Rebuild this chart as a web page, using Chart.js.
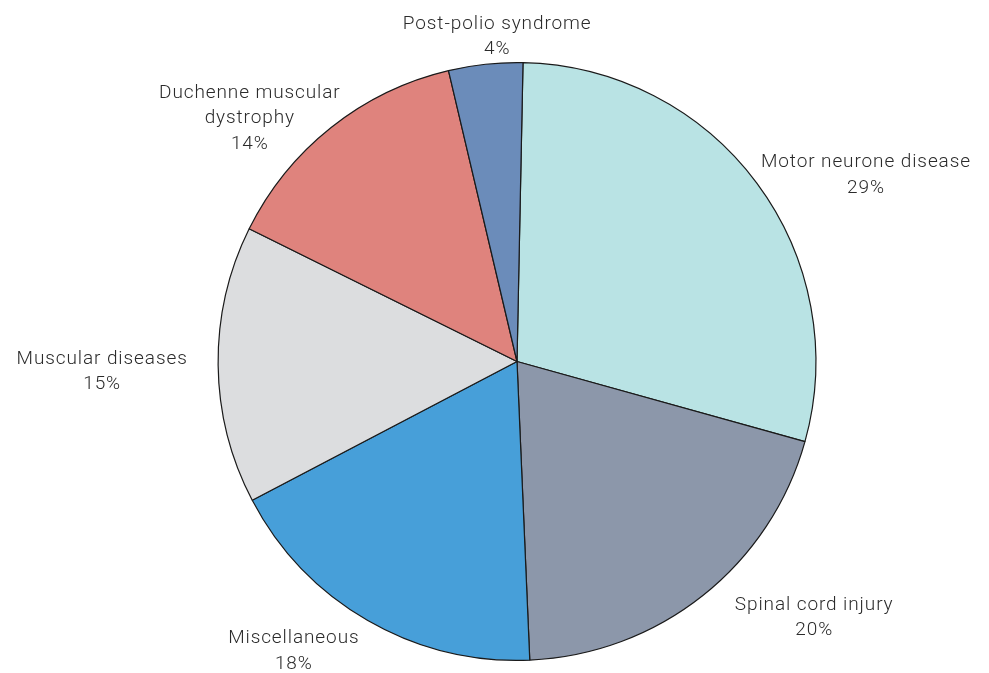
<!DOCTYPE html>
<html>
<head>
<meta charset="utf-8">
<script src="https://cdn.jsdelivr.net/npm/chart.js@4.4.6/dist/chart.umd.js"></script>
<style>
  html, body { margin: 0; padding: 0; background: #fff; }
  #wrap { width: 989px; height: 673px; position: relative; }
</style>
</head>
<body>
<div id="wrap"><canvas id="myChart"></canvas></div>
<script>
// data
const categories = ['Motor neurone disease', 'Spinal cord injury', 'Miscellaneous', 'Muscular diseases', 'Duchenne muscular dystrophy', 'Post-polio syndrome'];
const shares = [29, 20, 18, 15, 14, 4];
// label text as printed (line breaks where the picture breaks them)
const labelLines = [
    ['Motor neurone disease'],
    ['Spinal cord injury'],
    ['Miscellaneous'],
    ['Muscular diseases'],
    ['Duchenne muscular', 'dystrophy'],
    ['Post-polio syndrome']
];
const colours = ['#b9e3e4', '#8c97aa', '#479fd9', '#dcdddf', '#df837d', '#6b8cba'];

// nudges for the outside labels, relative to a point on the slice middle line
const labelNudge = [[61, 28], [74, -25], [-44, -21], [-56, 6], [-44, 38], [18, 32]];

const outsideLabels = {
    id: 'outsideLabels',
    afterDatasetsDraw(chart) {
        const ctx = chart.ctx;
        const meta = chart.getDatasetMeta(0);
        ctx.save();
        ctx.font = '300 19px Roboto';
        ctx.letterSpacing = '0.9px';
        ctx.fillStyle = '#2b2b2b';
        ctx.textAlign = 'center';
        ctx.textBaseline = 'middle';
        meta.data.forEach((arc, i) => {
            const p = arc.getProps(['x', 'y', 'startAngle', 'endAngle', 'outerRadius'], true);
            const mid = (p.startAngle + p.endAngle) / 2;
            const r = p.outerRadius + 60;
            const cx = p.x + Math.cos(mid) * r + labelNudge[i][0];
            const cy = p.y + Math.sin(mid) * r + labelNudge[i][1];
            const lines = labelLines[i].concat([shares[i] + '%']);
            const lh = 25.5;
            const top = cy - (lines.length - 1) * lh / 2;
            lines.forEach((t, k) => ctx.fillText(t, cx, top + k * lh));
        });
        ctx.restore();
    }
};

const ctx = document.getElementById('myChart').getContext('2d');
const myPieChart = new Chart(ctx, {
    type: 'pie',
    data: {
        labels: categories,
        datasets: [{
            data: shares,
            backgroundColor: colours,
            borderColor: '#1a1a1a',
            borderWidth: 1.2
        }]
    },
    options: {
        responsive: true,
        maintainAspectRatio: false,
        animation: false,
        rotation: 1.15,
        layout: {
            padding: { left: 217, right: 172, top: 62, bottom: 12 }
        },
        plugins: {
            legend: { display: false },
            tooltip: { enabled: false }
        },
        events: []
    },
    plugins: [outsideLabels]
});
</script>
</body>
</html>
